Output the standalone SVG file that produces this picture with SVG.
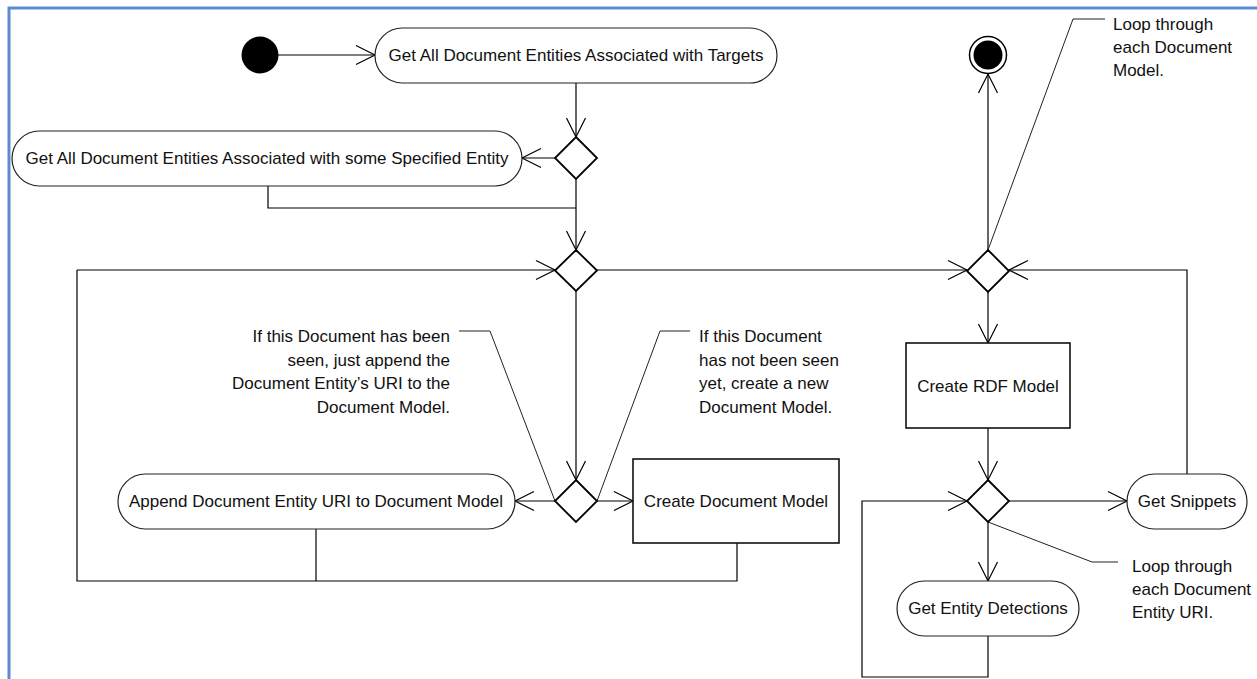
<svg xmlns="http://www.w3.org/2000/svg" width="1257" height="679" viewBox="0 0 1257 679">
<style>
text{font-family:"Liberation Sans",Arial,sans-serif;font-size:17px;fill:#111}
.c{text-anchor:middle;dominant-baseline:central}
.pill{fill:#fff;stroke:#222;stroke-width:1.2}
.box{fill:#fff;stroke:#111;stroke-width:1.6}
.dia{fill:#fff;stroke:#000;stroke-width:1.8}
.ln{fill:none;stroke:#000;stroke-width:1.2}
.arr{fill:none;stroke:#000;stroke-width:1.2;marker-end:url(#ah)}
.note{fill:none;stroke:#222;stroke-width:1}
</style>
<defs>
<marker id="ah" markerWidth="22" markerHeight="22" viewBox="-20 -11 22 22" refX="0" refY="0" orient="auto" markerUnits="userSpaceOnUse">
<path d="M-19,-9.5 L0,0 L-19,9.5" fill="none" stroke="#000" stroke-width="1.2"/>
</marker>
</defs>
<rect width="1257" height="679" fill="#fff"/>
<path d="M9,679 V8 H1257" fill="none" stroke="#5B8BD0" stroke-width="3"/>

<g id="connectors">
<line class="arr" x1="278" y1="55" x2="375" y2="55"/>
<line class="arr" x1="576" y1="83" x2="576" y2="137"/>
<line class="arr" x1="555" y1="158" x2="522" y2="158"/>
<polyline class="ln" points="268,186 268,208 576,208"/>
<line class="ln" x1="576" y1="179" x2="576" y2="208"/>
<line class="arr" x1="576" y1="208" x2="576" y2="250"/>
<line class="arr" x1="77" y1="270" x2="555" y2="270"/>
<polyline class="ln" points="737,543 737,581 77,581 77,270"/>
<line class="ln" x1="316" y1="529" x2="316" y2="581"/>
<line class="arr" x1="597" y1="270" x2="967" y2="270"/>
<line class="arr" x1="576" y1="291" x2="576" y2="480"/>
<line class="arr" x1="555" y1="501" x2="515" y2="501"/>
<line class="arr" x1="597" y1="501" x2="633" y2="501"/>
<line class="arr" x1="988" y1="250" x2="988" y2="74"/>
<line class="arr" x1="988" y1="292" x2="988" y2="343"/>
<polyline class="arr" points="1187,474 1187,270 1009,270"/>
<line class="arr" x1="988" y1="428" x2="988" y2="480"/>
<line class="arr" x1="1009" y1="501" x2="1127" y2="501"/>
<line class="arr" x1="988" y1="522" x2="988" y2="581"/>
<polyline class="arr" points="988,636 988,677 862,677 862,501 967,501"/>
<polyline class="note" points="988,250 1073,19 1105,19"/>
<polyline class="note" points="555,501 490,331 459,331"/>
<polyline class="note" points="597,501 660,331 690,331"/>
<polyline class="note" points="988,522 1092,562 1118,562"/>
</g>

<g id="start"><circle cx="260" cy="55" r="18.5" fill="#000"/></g>
<g id="end"><circle cx="988" cy="55" r="18.5" fill="#fff" stroke="#000" stroke-width="1.5"/><circle cx="988" cy="55" r="14.5" fill="#000"/></g>

<g id="n1"><rect class="pill" x="375" y="28" width="402" height="55" rx="27.5"/><text class="c" x="576" y="55.5">Get All Document Entities Associated with Targets</text></g>
<g id="n2"><rect class="pill" x="12" y="131" width="510" height="55" rx="27.5"/><text class="c" x="267" y="158.5">Get All Document Entities Associated with some Specified Entity</text></g>
<g id="d1"><polygon class="dia" points="576,137 597,158 576,179 555,158"/></g>
<g id="d2"><polygon class="dia" points="576,250 597,270.5 576,291 555,270.5"/></g>
<g id="d3"><polygon class="dia" points="988,250 1009,271 988,292 967,271"/></g>
<g id="d5"><polygon class="dia" points="576,480 597,501 576,522 555,501"/></g>
<g id="d4"><polygon class="dia" points="988,480 1009,501 988,522 967,501"/></g>
<g id="n3"><rect class="pill" x="118" y="474" width="397" height="55" rx="27.5"/><text class="c" x="316" y="501.5">Append Document Entity URI to Document Model</text></g>
<g id="n4"><rect class="box" x="633" y="459" width="206" height="84"/><text class="c" x="736" y="501.5">Create Document Model</text></g>
<g id="n5"><rect class="box" x="906" y="343" width="164" height="85"/><text class="c" x="988" y="386">Create RDF Model</text></g>
<g id="n6"><rect class="pill" x="1127" y="474" width="120" height="55" rx="27.5"/><text class="c" x="1187" y="501.5">Get Snippets</text></g>
<g id="n7"><rect class="pill" x="897" y="581" width="182" height="55" rx="27.5"/><text class="c" x="988" y="608.5">Get Entity Detections</text></g>

<g id="note-left"><text text-anchor="end" x="450" y="342">If this Document has been</text><text text-anchor="end" x="450" y="365.5">seen, just append the</text><text text-anchor="end" x="450" y="389">Document Entity’s URI to the</text><text text-anchor="end" x="450" y="412.5">Document Model.</text></g>
<g id="note-right"><text x="699" y="342">If this Document</text><text x="699" y="365.5">has not been seen</text><text x="699" y="389">yet, create a new</text><text x="699" y="412.5">Document Model.</text></g>
<g id="note-top"><text x="1113" y="29.5">Loop through</text><text x="1113" y="52.5">each Document</text><text x="1113" y="75.5">Model.</text></g>
<g id="note-bottom"><text x="1132" y="572">Loop through</text><text x="1132" y="595">each Document</text><text x="1132" y="618">Entity URI.</text></g>
</svg>
